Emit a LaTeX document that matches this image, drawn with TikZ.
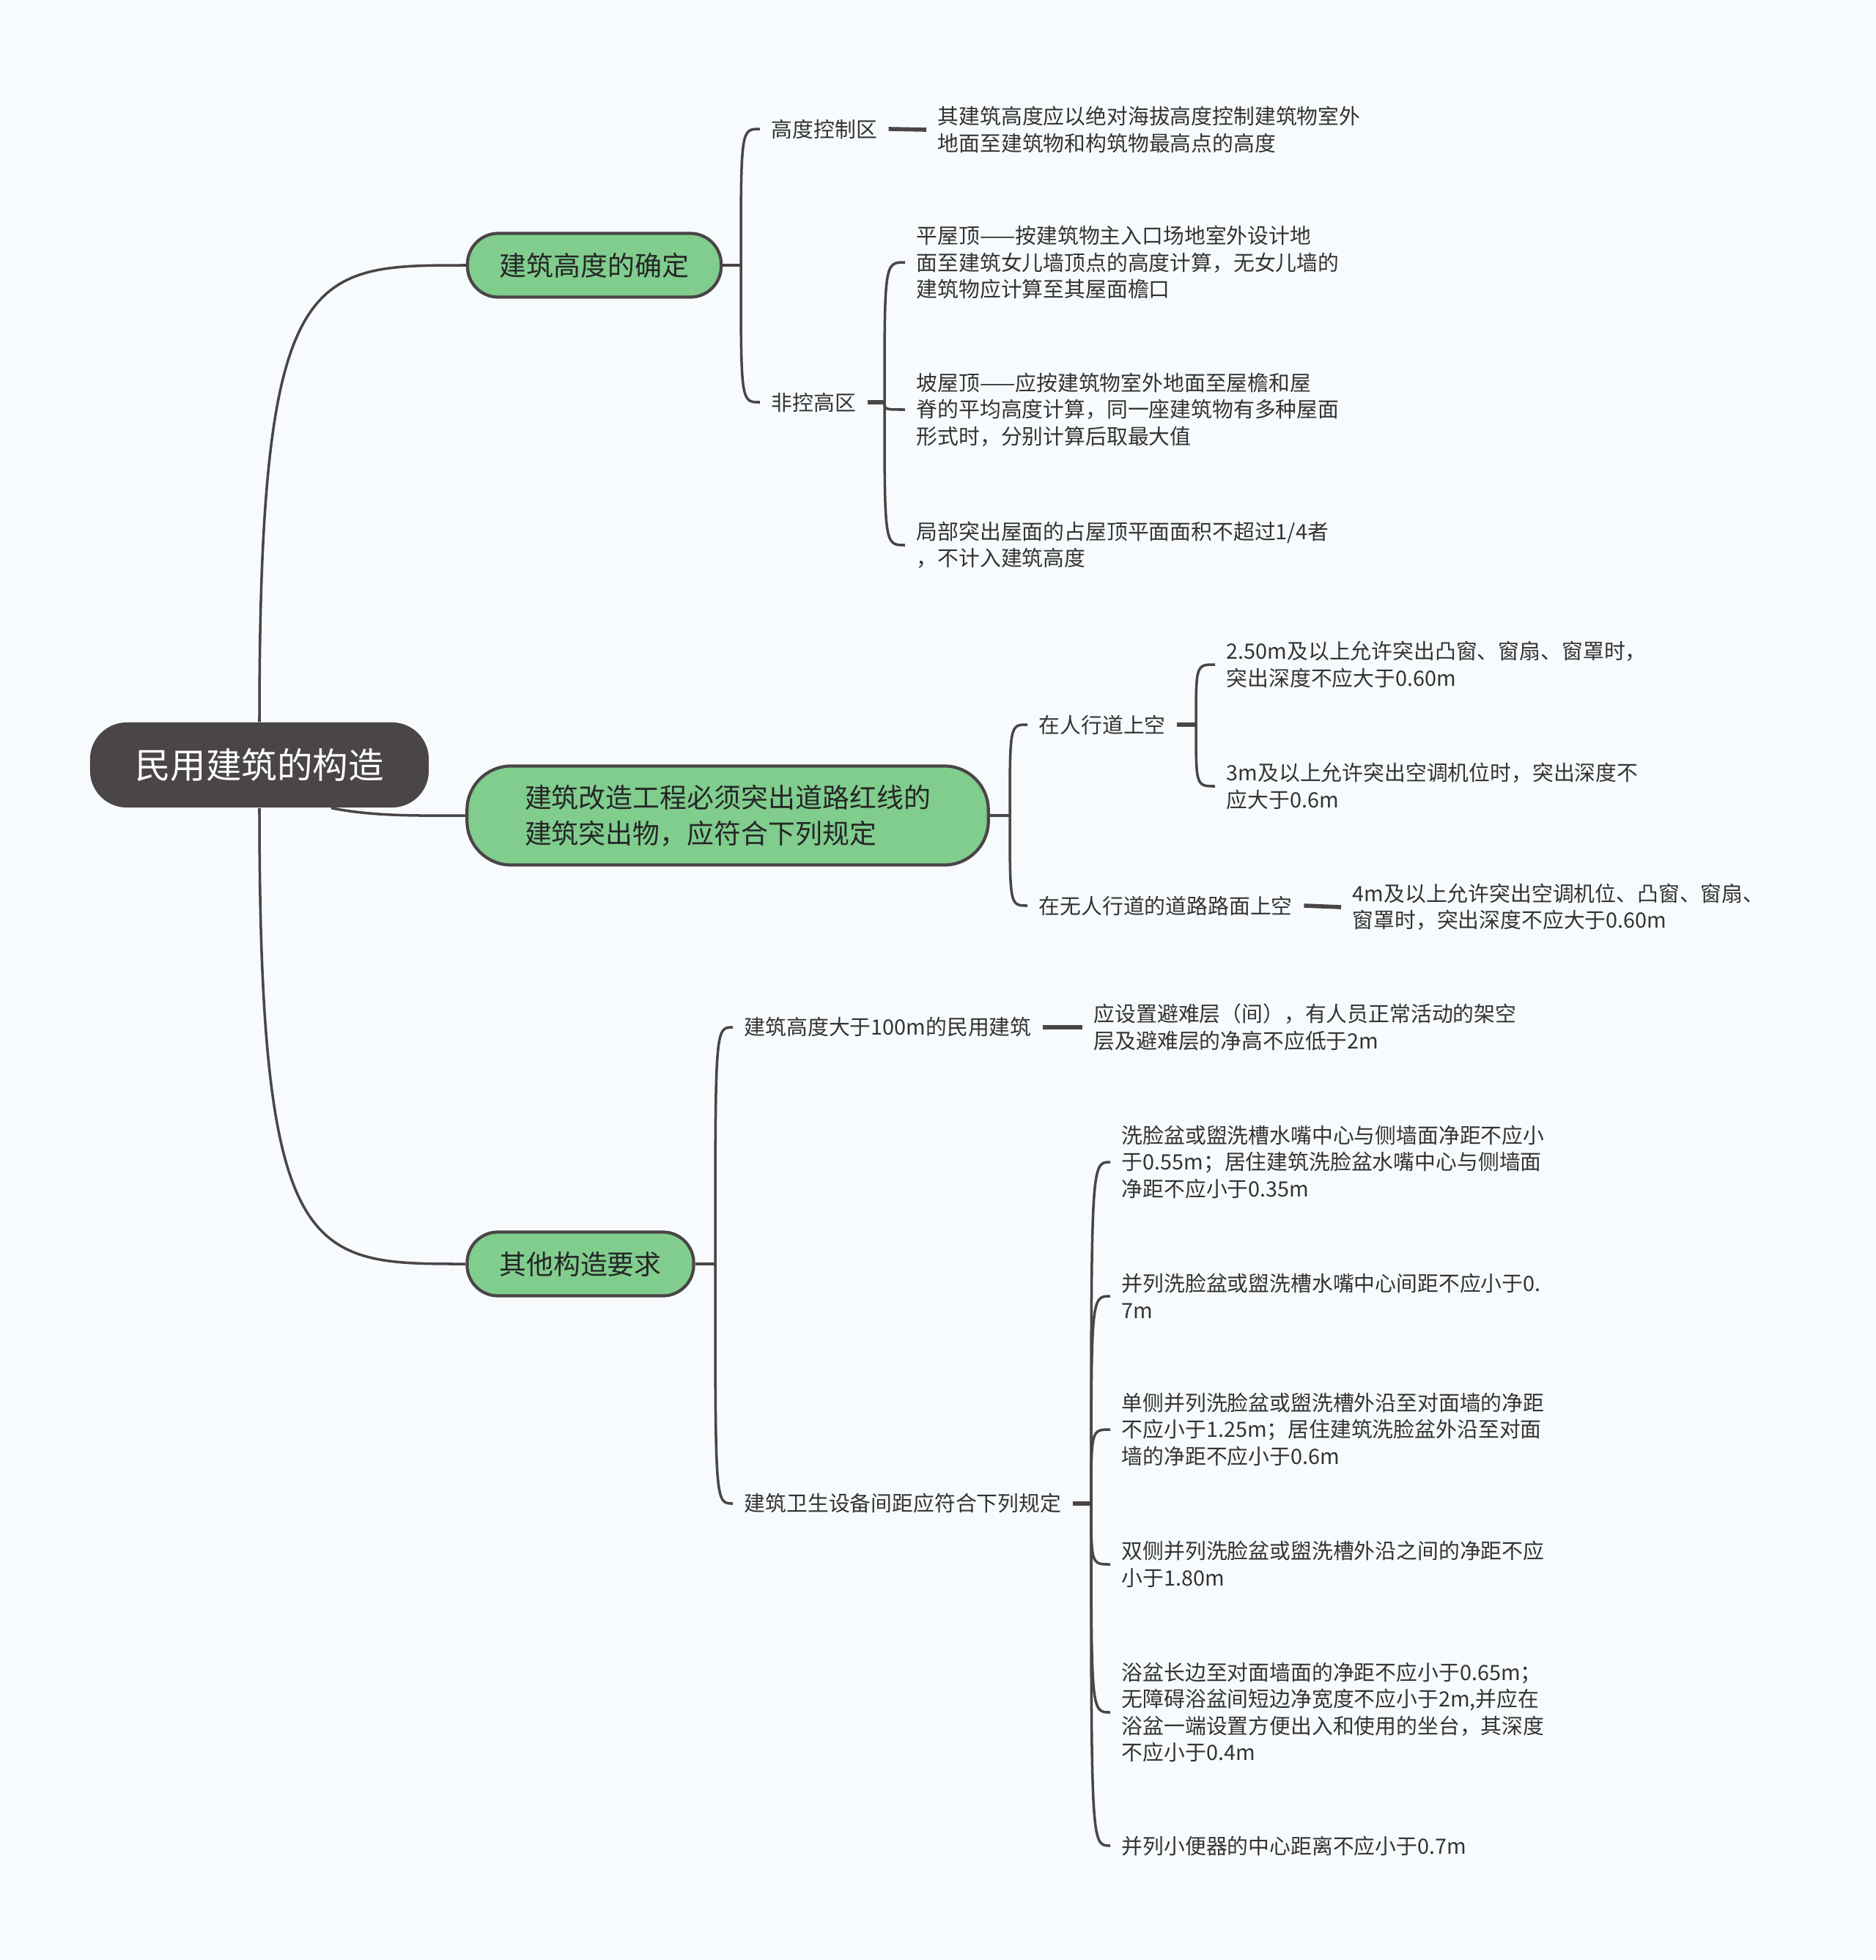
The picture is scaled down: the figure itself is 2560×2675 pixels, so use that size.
\documentclass[tikz,border=0pt]{standalone}
\usepackage{fontspec}
\setmainfont{Noto Sans CJK SC}
\usepackage{tikz}
\usetikzlibrary{calc}
\definecolor{bgcol}{HTML}{F8FBFD}
\definecolor{linecol}{HTML}{4A4546}
\definecolor{rootcol}{HTML}{4A4546}
\definecolor{topiccol}{HTML}{80CD8E}
\definecolor{textcol}{HTML}{333333}

\begin{document}
\begin{tikzpicture}[
x=0.01cm, y=-0.01cm,
font=\fontsize{8.2}{10.4}\selectfont,
root/.style={fill=rootcol, rounded corners=0.5cm, minimum width=4.62cm, minimum height=1.16cm, text=white, font=\fontsize{13.8}{16}\selectfont},
topic/.style={draw=linecol, line width=1.2pt, fill=topiccol, rounded corners=0.42cm, minimum height=0.87cm, align=left, text=black!85, font=\fontsize{10.5}{14}\selectfont},
sub/.style={anchor=west, inner xsep=0.15cm, inner ysep=0.05cm, text=textcol, align=left},
leaf/.style={sub},
link/.style={draw=linecol, line width=1pt},
stub/.style={draw=linecol, line width=1.6pt}
]
\useasboundingbox (0,0) rectangle (2560,2675);
\fill[bgcol] (0,0) rectangle (2560,2675);

% Root and main topics
\node[root] (root) at (354,1044) {民用建筑的构造};
\node[topic, minimum width=3.46cm] (b1) at (811,362) {建筑高度的确定};
\node[topic, minimum width=7.11cm, minimum height=1.35cm, rounded corners=0.6cm] (b2) at (993,1113)
{建筑改造工程必须突出道路红线的\\建筑突出物，应符合下列规定};
\node[topic, minimum width=3.09cm] (b3) at (792,1725) {其他构造要求};

\draw[link] (root.north) .. controls (354,362) and (422,362) .. (b1.west);
\draw[link] ($(root.south)+(98,0)$) .. controls +(60,12) and +(-60,0) .. (b2.west);
\draw[link] (root.south) .. controls (354,1725) and (422,1725) .. (b3.west);

% Branch 1
\coordinate (j1) at (1011,362);
\coordinate (j2) at (1207,549);
\node[sub] (h1) at (1037,176) {高度控制区};
\node[sub] (h2) at (1037,549) {非控高区};
\node[leaf] (l1) at (1264,177) {其建筑高度应以绝对海拔高度控制建筑物室外\\地面至建筑物和构筑物最高点的高度};
\node[leaf] (p1) at (1235,358) {平屋顶——按建筑物主入口场地室外设计地\\面至建筑女儿墙顶点的高度计算，无女儿墙的\\建筑物应计算至其屋面檐口};
\node[leaf] (p2) at (1235,559) {坡屋顶——应按建筑物室外地面至屋檐和屋\\脊的平均高度计算，同一座建筑物有多种屋面\\形式时，分别计算后取最大值};
\node[leaf] (p3) at (1235,744) {局部突出屋面的占屋顶平面面积不超过1/4者\\，不计入建筑高度};

\draw[link] (b1.east) -- (j1);
\draw[link] (j1) .. controls (j1 |- h1.west) and (j1 |- h1.west) .. (h1.west);
\draw[link] (j1) .. controls (j1 |- h2.west) and (j1 |- h2.west) .. (h2.west);
\draw[stub] (h1.east) -- (l1.west);
\draw[stub] (h2.east) -- (j2);
\draw[link] (j2) .. controls (j2 |- p1.west) and (j2 |- p1.west) .. (p1.west);
\draw[link] (j2) .. controls (j2 |- p2.west) and (j2 |- p2.west) .. (p2.west);
\draw[link] (j2) .. controls (j2 |- p3.west) and (j2 |- p3.west) .. (p3.west);

% Branch 2
\coordinate (j3) at (1378,1113);
\coordinate (j4) at (1632,989);
\node[sub] (r1) at (1402,989) {在人行道上空};
\node[sub] (r2) at (1402,1236) {在无人行道的道路路面上空};
\node[leaf] (ra) at (1658,907) {2.50m及以上允许突出凸窗、窗扇、窗罩时，\\突出深度不应大于0.60m};
\node[leaf] (rb) at (1658,1073) {3m及以上允许突出空调机位时，突出深度不\\应大于0.6m};
\node[leaf] (rc) at (1830,1238) {4m及以上允许突出空调机位、凸窗、窗扇、\\窗罩时，突出深度不应大于0.60m};

\draw[link] (b2.east) -- (j3);
\draw[link] (j3) .. controls (j3 |- r1.west) and (j3 |- r1.west) .. (r1.west);
\draw[link] (j3) .. controls (j3 |- r2.west) and (j3 |- r2.west) .. (r2.west);
\draw[stub] (r1.east) -- (j4);
\draw[link] (j4) .. controls (j4 |- ra.west) and (j4 |- ra.west) .. (ra.west);
\draw[link] (j4) .. controls (j4 |- rb.west) and (j4 |- rb.west) .. (rb.west);
\draw[stub] (r2.east) -- (rc.west);

% Branch 3
\coordinate (j5) at (976,1725);
\coordinate (j6) at (1489,2052);
\node[sub] (s1) at (1000,1402) {建筑高度大于100m的民用建筑};
\node[sub] (s2) at (1000,2052) {建筑卫生设备间距应符合下列规定};
\node[leaf] (sd) at (1477,1402) {应设置避难层（间），有人员正常活动的架空\\层及避难层的净高不应低于2m};
\node[leaf] (c1) at (1515,1586) {洗脸盆或盥洗槽水嘴中心与侧墙面净距不应小\\于0.55m；居住建筑洗脸盆水嘴中心与侧墙面\\净距不应小于0.35m};
\node[leaf] (c2) at (1515,1769) {并列洗脸盆或盥洗槽水嘴中心间距不应小于0.\\7m};
\node[leaf] (c3) at (1515,1951) {单侧并列洗脸盆或盥洗槽外沿至对面墙的净距\\不应小于1.25m；居住建筑洗脸盆外沿至对面\\墙的净距不应小于0.6m};
\node[leaf] (c4) at (1515,2135) {双侧并列洗脸盆或盥洗槽外沿之间的净距不应\\小于1.80m};
\node[leaf] (c5) at (1515,2337) {浴盆长边至对面墙面的净距不应小于0.65m；\\无障碍浴盆间短边净宽度不应小于2m,并应在\\浴盆一端设置方便出入和使用的坐台，其深度\\不应小于0.4m};
\node[leaf] (c6) at (1515,2519) {并列小便器的中心距离不应小于0.7m};

\draw[link] (b3.east) -- (j5);
\draw[link] (j5) .. controls (j5 |- s1.west) and (j5 |- s1.west) .. (s1.west);
\draw[link] (j5) .. controls (j5 |- s2.west) and (j5 |- s2.west) .. (s2.west);
\draw[stub] (s1.east) -- (sd.west);
\draw[stub] (s2.east) -- (j6);
\draw[link] (j6) .. controls (j6 |- c1.west) and (j6 |- c1.west) .. (c1.west);
\draw[link] (j6) .. controls (j6 |- c2.west) and (j6 |- c2.west) .. (c2.west);
\draw[link] (j6) .. controls (j6 |- c3.west) and (j6 |- c3.west) .. (c3.west);
\draw[link] (j6) .. controls (j6 |- c4.west) and (j6 |- c4.west) .. (c4.west);
\draw[link] (j6) .. controls (j6 |- c5.west) and (j6 |- c5.west) .. (c5.west);
\draw[link] (j6) .. controls (j6 |- c6.west) and (j6 |- c6.west) .. (c6.west);

\end{tikzpicture}
\end{document}
